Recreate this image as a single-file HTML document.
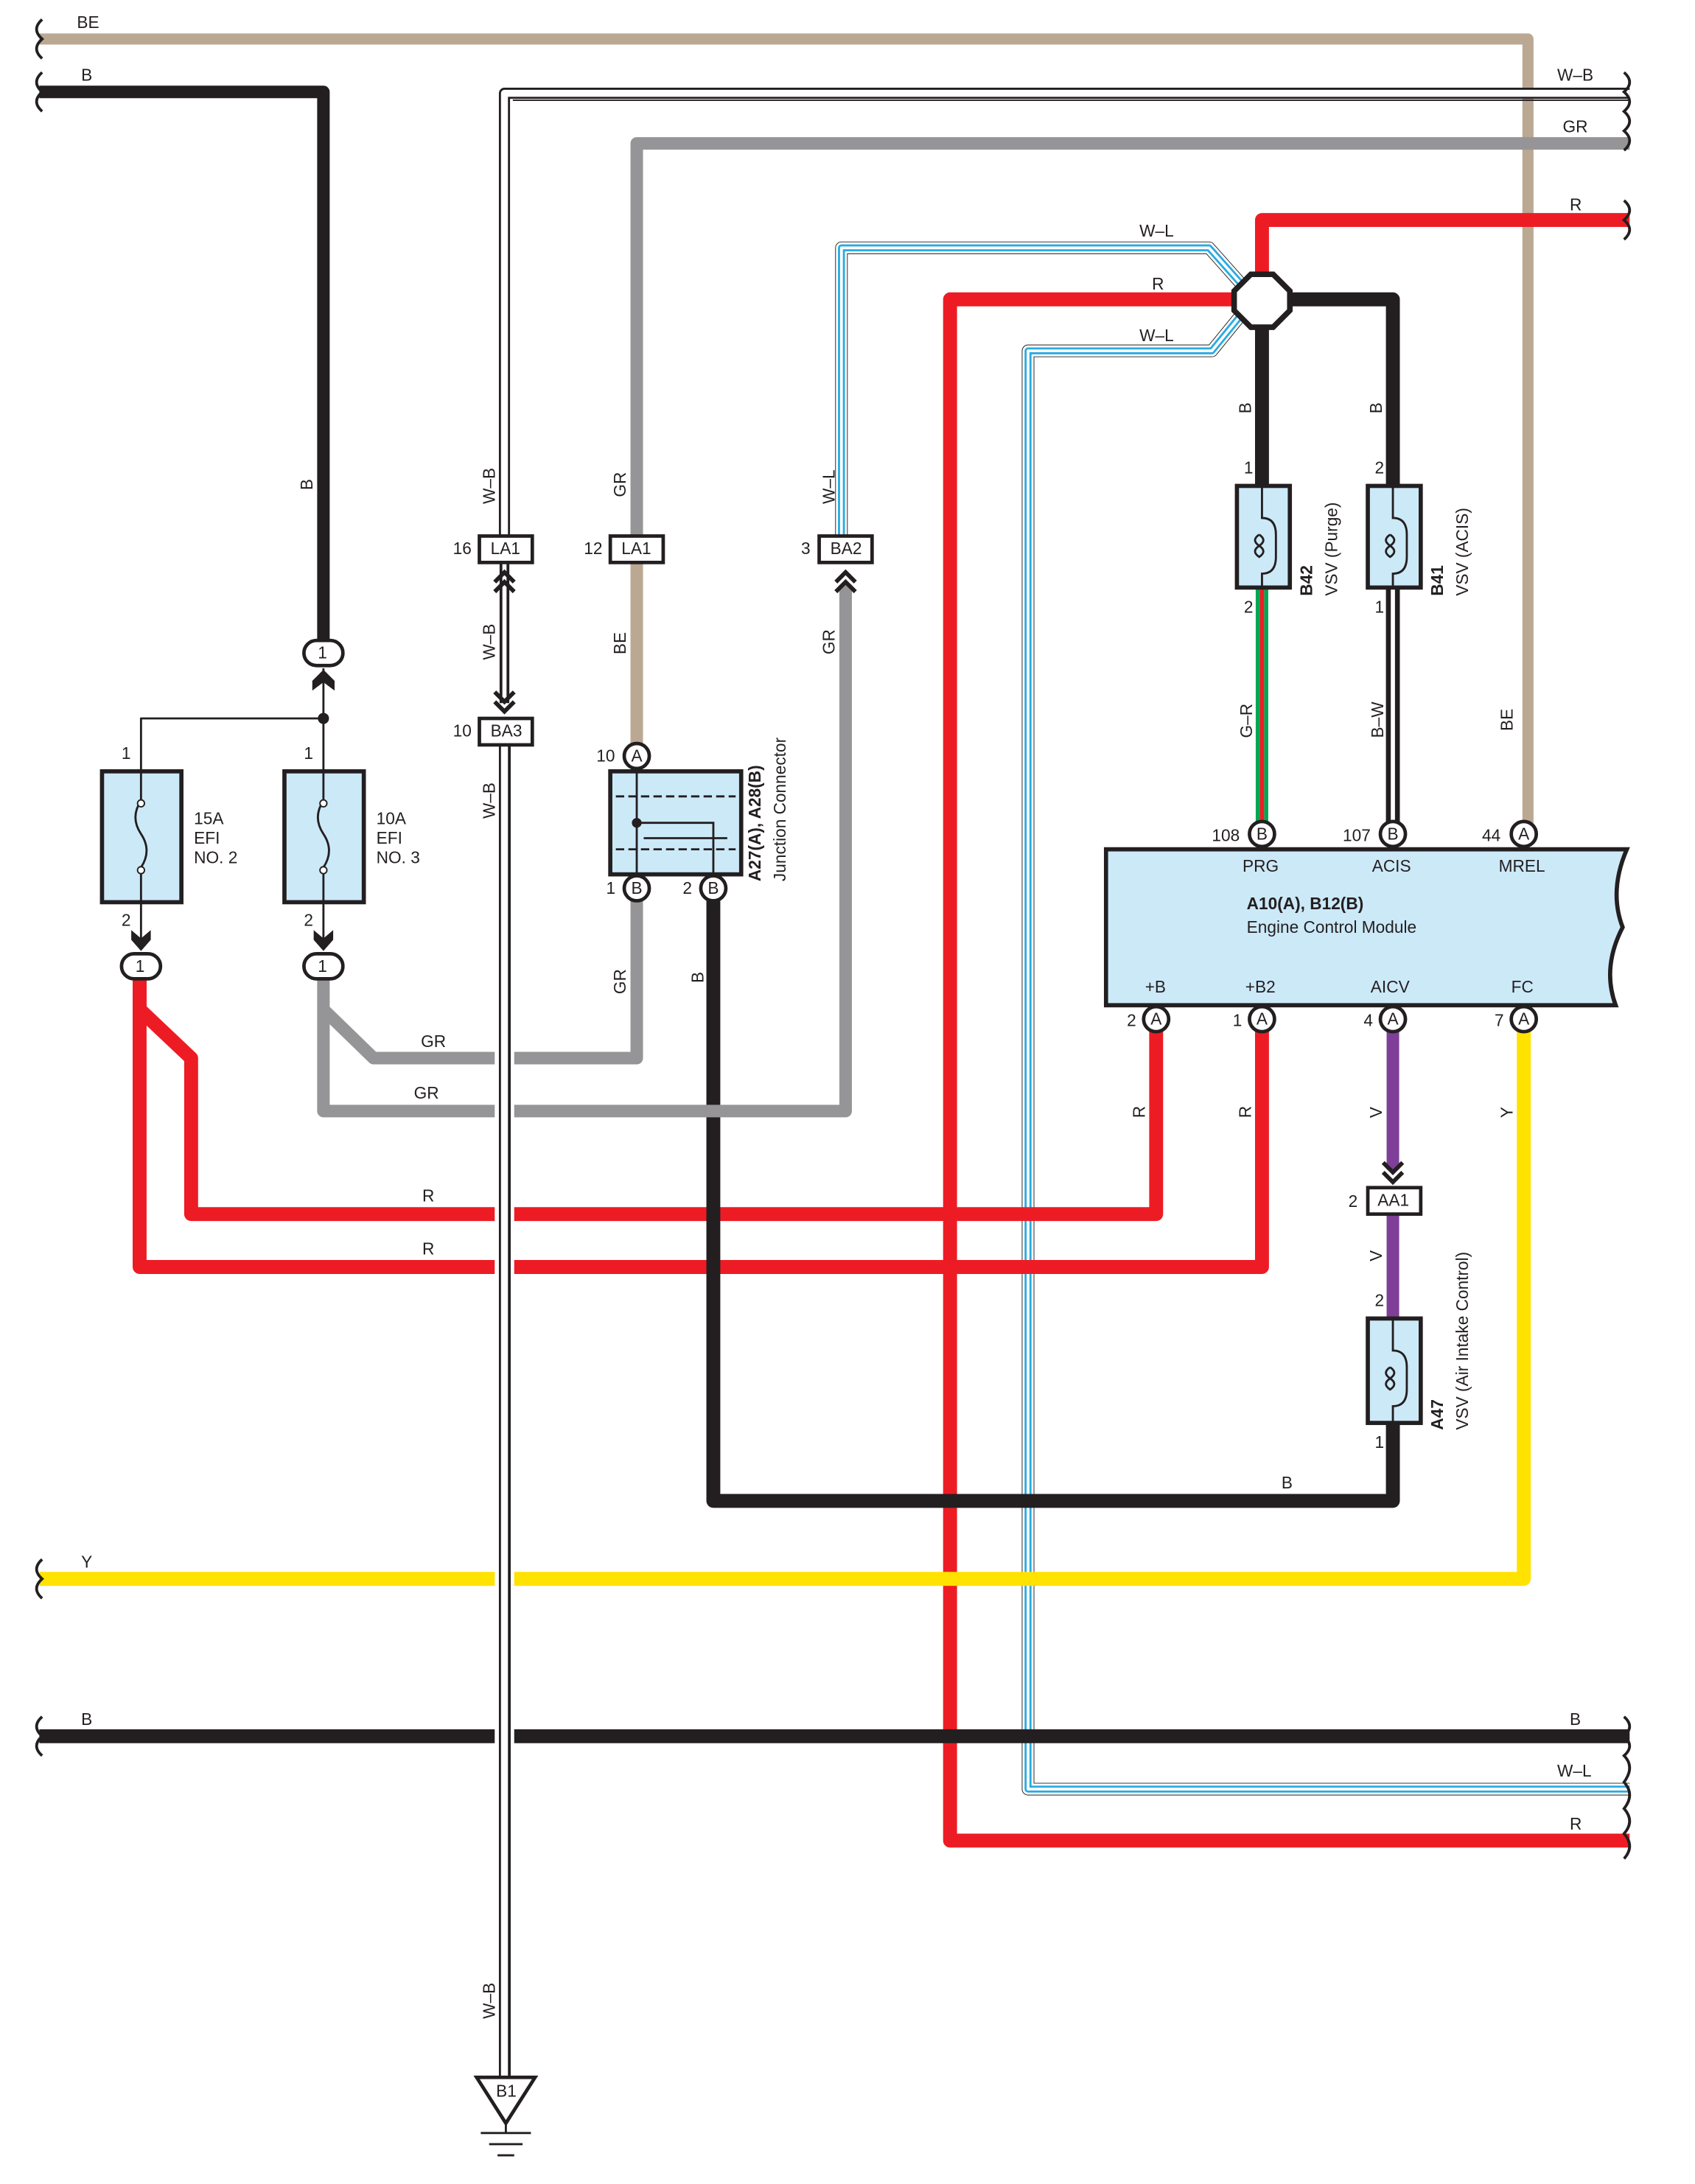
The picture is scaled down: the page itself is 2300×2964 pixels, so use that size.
<!DOCTYPE html>
<html><head><meta charset="utf-8"><style>
html,body{margin:0;padding:0;background:#fff}
svg{display:block}
text{font-family:"Liberation Sans",sans-serif;font-size:12px;fill:#231f20}
</style></head><body>
<svg width="2300" height="2964" viewBox="0 0 1210 1560" xmlns="http://www.w3.org/2000/svg">
<g transform="scale(0.9945)">
<g fill="none" stroke-linejoin="round">
<path d="M28 28 H1097 V592" stroke="#bba893" stroke-width="8"/>
<path d="M28 66 H232 V460" stroke="#231f20" stroke-width="9"/>
<path d="M1170 103 H457 V385" stroke="#959597" stroke-width="9"/>
<path d="M1170 158 H906 V200" stroke="#ed1c24" stroke-width="10"/>
<path d="M1170 67 H362 V385" stroke="#231f20" stroke-width="8"/>
<path d="M1170 67 H362 V385" stroke="#fff" stroke-width="5"/>
<path d="M1170 72 H368" stroke="#231f20" stroke-width="1"/>
<path d="M892 205 L868 178 H604 V385" stroke="#231f20" stroke-width="9"/>
<path d="M892 205 L868 178 H604 V385" stroke="#fff" stroke-width="8"/>
<path d="M892 205 L868 178 H604 V385" stroke="#29abe2" stroke-width="5"/>
<path d="M892 205 L868 178 H604 V385" stroke="#fff" stroke-width="2"/>
<path d="M890 215 H682 V1322 H1170" stroke="#ed1c24" stroke-width="10"/>
<path d="M892 225 L870 252 H738 V1285 H1170" stroke="#231f20" stroke-width="9"/>
<path d="M892 225 L870 252 H738 V1285 H1170" stroke="#fff" stroke-width="8"/>
<path d="M892 225 L870 252 H738 V1285 H1170" stroke="#29abe2" stroke-width="5"/>
<path d="M892 225 L870 252 H738 V1285 H1170" stroke="#fff" stroke-width="2"/>
<path d="M920 215 H1000 V350" stroke="#231f20" stroke-width="10"/>
<path d="M906 220 V350" stroke="#231f20" stroke-width="10"/>
<path d="M903 422 V592 M909 422 V592" stroke="#00a651" stroke-width="3"/>
<path d="M906 422 V592" stroke="#ed1c24" stroke-width="3"/>
<path d="M1000 422 V592" stroke="#231f20" stroke-width="10"/>
<path d="M1000 422 V592" stroke="#fff" stroke-width="3"/>
<path d="M830 740 V872 H137 V760 L100 725 V700" stroke="#ed1c24" stroke-width="10"/>
<path d="M906 740 V910 H100 V700" stroke="#ed1c24" stroke-width="10"/>
<path d="M1000 740 V840 M1000 872 V947" stroke="#7f3f98" stroke-width="9"/>
<path d="M1000 1022 V1078 H512 V645" stroke="#231f20" stroke-width="10"/>
<path d="M1094 740 V1134 H28" stroke="#ffe200" stroke-width="10"/>
<path d="M28 1247 H1170" stroke="#231f20" stroke-width="10"/>
<path d="M232 700 V725 L268 760 H457 V645" stroke="#959597" stroke-width="9"/>
<path d="M232 725 V798 H607 V420" stroke="#959597" stroke-width="9"/>
<path d="M457 405 V535" stroke="#bba893" stroke-width="9"/>
<path d="M362 405 V505" stroke="#231f20" stroke-width="7"/>
<path d="M362 405 V505" stroke="#fff" stroke-width="3"/>
<path d="M362 535 V1492" stroke="#fff" stroke-width="14"/>
<path d="M362 535 V1492" stroke="#231f20" stroke-width="8"/>
<path d="M362 535 V1492" stroke="#fff" stroke-width="5"/>
<path d="M366 535 V1492" stroke="#231f20" stroke-width="1"/>
<path d="M232 480 V553 M232 516 H101 V553" stroke="#231f20" stroke-width="1.5"/>
<path d="M101 648 V682 M232 648 V682" stroke="#231f20" stroke-width="1.5"/>
</g>
<circle cx="232" cy="516" r="4" fill="#231f20"/>
<polygon points="898,197 914,197 926,209 926,223 914,235 898,235 886,223 886,209" fill="#fff" stroke="#231f20" stroke-width="4"/>
<g fill="none" stroke="#231f20" stroke-width="2">
<path d="M30 14 q-8 7 0 14 q-8 7 0 14 M30 52 q-8 7 0 14 q-8 7 0 14 M30 1120 q-8 7 0 14 q-8 7 0 14 M30 1233 q-8 7 0 14 q-8 7 0 14"/>
<path d="M1166 52 q8 7 0 14 q8 7 0 14 q8 7 0 14 q8 7 0 14 M1166 144 q8 7 0 14 q8 7 0 14 M1166 1233 q8 7 0 14 q8 7 0 14 q8 8 0 19 q8 9 0 19 q8 9 0 18 q8 9 0 18"/>
</g>
<g stroke="#231f20" stroke-width="3" fill="#cce9f8">
<rect x="73" y="554" width="57" height="94"/>
<rect x="204" y="554" width="57" height="94"/>
<rect x="888" y="349" width="38" height="73"/>
<rect x="982" y="349" width="38" height="73"/>
<rect x="982" y="947" width="38" height="75"/>
<rect x="438" y="554" width="94" height="74"/>
<path d="M794 610 H1168 Q1155 640 1165 666 Q1150 695 1160 722 H794 Z"/>
</g>
<g stroke="#231f20" stroke-width="1.5" fill="none">
<path d="M101 554 V575 q-8 12 0 24 q8 12 0 24 V648 M232 554 V575 q-8 12 0 24 q8 12 0 24 V648"/>
<path d="M906 350 V372 q10 0 10 12 v16 q0 12 -10 12 V422 M1000 350 V372 q10 0 10 12 v16 q0 12 -10 12 V422 M1000 948 V970 q10 0 10 12 v16 q0 12 -10 12 V1022"/>
<path d="M904 384 q-6 4 0 8 q6-4 0-8 M904 392 q-6 4 0 8 q6-4 0-8 M998 384 q-6 4 0 8 q6-4 0-8 M998 392 q-6 4 0 8 q6-4 0-8 M998 982 q-6 4 0 8 q6-4 0-8 M998 990 q-6 4 0 8 q6-4 0-8"/>
<path d="M442 572 H528 M442 610 H528" stroke-dasharray="6 3"/>
<path d="M457 554 V628 M457 591 H512 V628 M462 602 H522"/>
</g>
<circle cx="101" cy="577" r="2.5" fill="#fff" stroke="#231f20"/><circle cx="101" cy="625" r="2.5" fill="#fff" stroke="#231f20"/>
<circle cx="232" cy="577" r="2.5" fill="#fff" stroke="#231f20"/><circle cx="232" cy="625" r="2.5" fill="#fff" stroke="#231f20"/>
<circle cx="457" cy="591" r="3.5" fill="#231f20"/>
<g stroke="#231f20" stroke-width="2.5" fill="#fff">
<rect x="344" y="385" width="38" height="19"/>
<rect x="438" y="385" width="38" height="19"/>
<rect x="588" y="385" width="38" height="19"/>
<rect x="344" y="516" width="38" height="19"/>
<rect x="982" y="853" width="38" height="19"/>
<rect x="218" y="460" width="28" height="18" rx="9"/>
<rect x="87" y="685" width="28" height="18" rx="9"/>
<rect x="218" y="685" width="28" height="18" rx="9"/>
<circle cx="457" cy="543" r="9"/><circle cx="457" cy="638" r="9"/><circle cx="512" cy="638" r="9"/>
<circle cx="906" cy="599" r="9"/><circle cx="1000" cy="599" r="9"/><circle cx="1094" cy="599" r="9"/>
<circle cx="830" cy="732" r="9"/><circle cx="906" cy="732" r="9"/><circle cx="1000" cy="732" r="9"/><circle cx="1094" cy="732" r="9"/>
</g>
<g stroke="#231f20" stroke-width="3" fill="none">
<path d="M355 418 l7 -7 l7 7 M355 425 l7 -7 l7 7 M355 497 l7 7 l7 -7 M355 504 l7 7 l7 -7"/>
<path d="M600 418 l7 -7 l7 7 M600 425 l7 -7 l7 7"/>
<path d="M993 835 l7 7 l7 -7 M993 842 l7 7 l7 -7"/>
</g>
<polygon points="232,481 240,489 240,496 232,490 224,496 224,489" fill="#231f20"/>
<polygon points="94,668 101,674 108,668 108,675 101,683 94,675" fill="#231f20"/>
<polygon points="225,668 232,674 239,668 239,675 232,683 225,675" fill="#231f20"/>
<polygon points="342,1492 384,1492 363,1525" fill="#fff" stroke="#231f20" stroke-width="2.5"/>
<path d="M345 1532 H381 M351 1540 H375 M357 1548 H369 M363 1525 V1532" stroke="#231f20" stroke-width="1.5"/>

<text x="55" y="20">BE</text><text x="58" y="58">B</text>
<text x="1118" y="58">W–B</text><text x="1122" y="95">GR</text><text x="1127" y="151">R</text>
<text x="818" y="170">W–L</text><text x="827" y="208">R</text><text x="818" y="245">W–L</text>
<text x="302" y="752">GR</text><text x="297" y="789">GR</text>
<text x="303" y="863">R</text><text x="303" y="901">R</text>
<text x="920" y="1069">B</text><text x="58" y="1126">Y</text><text x="58" y="1239">B</text>
<text x="1127" y="1239">B</text><text x="1118" y="1276">W–L</text><text x="1127" y="1314">R</text>
<g font-size="11">
<text x="352" y="398">LA1</text><text x="446" y="398">LA1</text><text x="596" y="398">BA2</text><text x="352" y="529">BA3</text><text x="989" y="866">AA1</text>
<text x="228" y="473">1</text><text x="97" y="698">1</text><text x="228" y="698">1</text>
<text x="453" y="547">A</text><text x="453" y="642">B</text><text x="508" y="642">B</text>
<text x="902" y="603">B</text><text x="996" y="603">B</text><text x="1090" y="603">A</text>
<text x="826" y="736">A</text><text x="902" y="736">A</text><text x="996" y="736">A</text><text x="1090" y="736">A</text>
<text x="356" y="1506">B1</text>
</g>
<text x="325" y="398">16</text><text x="419" y="398">12</text><text x="575" y="398">3</text><text x="325" y="529">10</text>
<text x="428" y="547">10</text><text x="435" y="642">1</text><text x="490" y="642">2</text>
<text x="870" y="604">108</text><text x="964" y="604">107</text><text x="1064" y="604">44</text>
<text x="809" y="737">2</text><text x="885" y="737">1</text><text x="979" y="737">4</text><text x="1073" y="737">7</text>
<text x="968" y="867">2</text><text x="987" y="938">2</text><text x="987" y="1040">1</text>
<text x="893" y="340">1</text><text x="987" y="340">2</text><text x="893" y="440">2</text><text x="987" y="440">1</text>
<text x="87" y="545">1</text><text x="218" y="545">1</text><text x="87" y="665">2</text><text x="218" y="665">2</text>
<text x="139" y="592">15A</text><text x="139" y="606">EFI</text><text x="139" y="620">NO. 2</text>
<text x="270" y="592">10A</text><text x="270" y="606">EFI</text><text x="270" y="620">NO. 3</text>
<text x="892" y="626">PRG</text><text x="985" y="626">ACIS</text><text x="1076" y="626">MREL</text>
<text x="895" y="653" font-weight="bold">A10(A), B12(B)</text><text x="895" y="670">Engine Control Module</text>
<text x="822" y="713">+B</text><text x="894" y="713">+B2</text><text x="984" y="713">AICV</text><text x="1085" y="713">FC</text>
<g>
<text transform="translate(224 352) rotate(-90)">B</text>
<text transform="translate(355 362) rotate(-90)">W–B</text>
<text transform="translate(355 474) rotate(-90)">W–B</text>
<text transform="translate(355 588) rotate(-90)">W–B</text>
<text transform="translate(355 1450) rotate(-90)">W–B</text>
<text transform="translate(449 357) rotate(-90)">GR</text>
<text transform="translate(449 470) rotate(-90)">BE</text>
<text transform="translate(449 714) rotate(-90)">GR</text>
<text transform="translate(505 706) rotate(-90)">B</text>
<text transform="translate(599 362) rotate(-90)">W–L</text>
<text transform="translate(599 470) rotate(-90)">GR</text>
<text transform="translate(898 297) rotate(-90)">B</text>
<text transform="translate(992 297) rotate(-90)">B</text>
<text transform="translate(899 530) rotate(-90)">G–R</text>
<text transform="translate(993 530) rotate(-90)">B–W</text>
<text transform="translate(1086 525) rotate(-90)">BE</text>
<text transform="translate(822 803) rotate(-90)">R</text>
<text transform="translate(898 803) rotate(-90)">R</text>
<text transform="translate(992 803) rotate(-90)">V</text>
<text transform="translate(1086 803) rotate(-90)">Y</text>
<text transform="translate(992 906) rotate(-90)">V</text>
<text transform="translate(546 633) rotate(-90)" font-weight="bold">A27(A), A28(B)</text>
<text transform="translate(564 633) rotate(-90)">Junction Connector</text>
<text transform="translate(942 428) rotate(-90)" font-weight="bold">B42</text>
<text transform="translate(960 428) rotate(-90)">VSV (Purge)</text>
<text transform="translate(1036 428) rotate(-90)" font-weight="bold">B41</text>
<text transform="translate(1054 428) rotate(-90)">VSV (ACIS)</text>
<text transform="translate(1036 1027) rotate(-90)" font-weight="bold">A47</text>
<text transform="translate(1054 1027) rotate(-90)">VSV (Air Intake Control)</text>
</g>
</g>
</svg>
</body></html>
